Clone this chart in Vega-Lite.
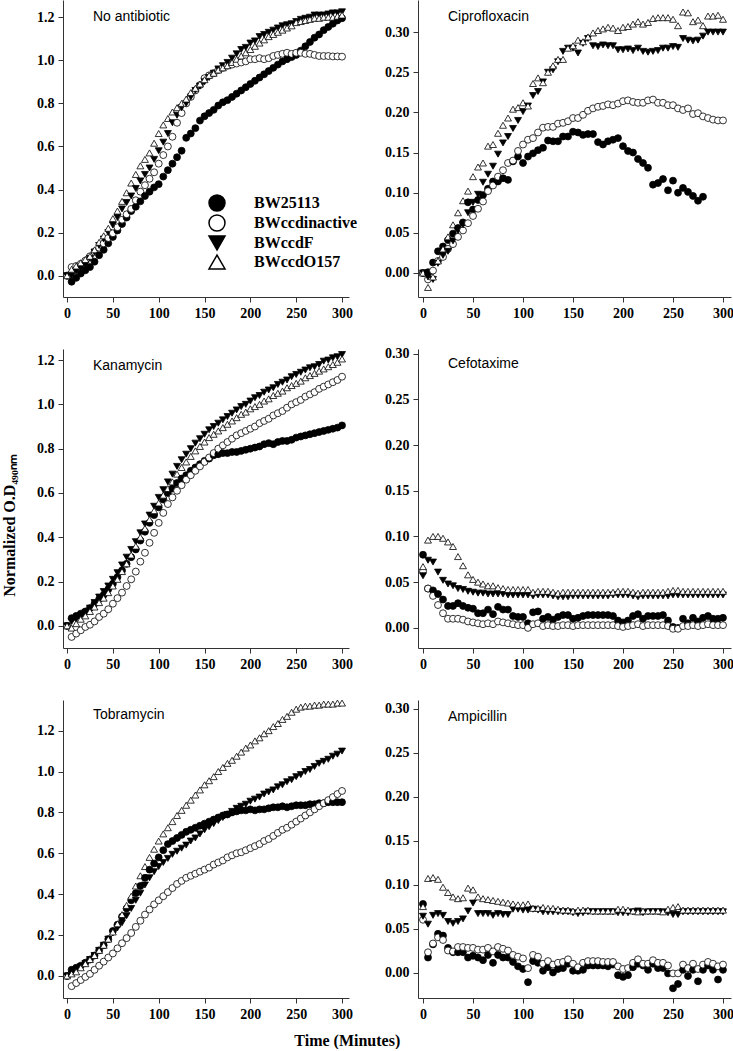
{
"$schema":"https://vega.github.io/schema/vega-lite/v6.json",
"background":"white",
"padding":{"left":1,"top":0,"right":0,"bottom":0},
"title":{"text":"Time (Minutes)","orient":"bottom","anchor":"middle","frame":"bounds","font":"Liberation Serif","fontSize":16,"fontWeight":"bold","color":"#000","offset":12,"dx":-20},
"columns":2,
"spacing":{"row":52,"column":69},
"bounds":"flush",
"config":{
"view":{"stroke":null},
"axis":{"grid":false,"domainColor":"#333","domainWidth":1,"tickColor":"#333","tickWidth":1,"tickSize":5,"labelFont":"Liberation Serif","labelFontSize":14,"labelFontWeight":"bold","labelColor":"#000","labelPadding":4,"labelFlush":false,"labelOverlap":false},
"title":{"font":"Liberation Sans","fontSize":14,"fontWeight":"normal","color":"#000"}
},
"concat":[
{"width":286,"height":297,"data":{"name":"p1"},"transform":[{"fold":["a","b","c","d"]}],
"title":{"text":"No antibiotic","frame":"group","anchor":"start","offset":-24,"dx":30},
"mark":{"type":"point","filled":true,"stroke":"#000","strokeWidth":0.8,"size":48,"opacity":1},
"encoding":{
"x":{"field":"t","type":"quantitative","scale":{"domain":[-4.4,307.6],"nice":false,"zero":false},"axis":{"values":[0,50,100,150,200,250,300],"title":null}},
"y":{"field":"value","type":"quantitative","scale":{"domain":[-0.099,1.28],"nice":false,"zero":false},"axis":{"values":[0,0.2,0.4,0.6,0.8,1,1.2],"format":".1f","title":null}},
"shape":{"field":"key","type":"nominal","scale":{"domain":["a","b","c","d"],"range":["circle","circle","triangle-down","triangle-up"]},"legend":{"title":null,"orient":"none","legendX":145,"legendY":194,"symbolSize":256,"labelFont":"Liberation Serif","labelFontSize":16,"labelFontWeight":"bold","labelColor":"#000","labelOffset":28,"rowPadding":-2,"padding":0,"labelExpr":"datum.label=='a'?'BW25113':datum.label=='b'?'BWccdinactive':datum.label=='c'?'BWccdF':'BWccdO157'","encode":{"symbols":{"update":{"stroke":{"value":"#000"},"strokeWidth":{"value":1}}}}}},
"fill":{"field":"key","type":"nominal","scale":{"domain":["a","b","c","d"],"range":["#000","#fff","#000","#fff"]},"legend":{"title":null,"orient":"none","legendX":145,"legendY":194,"symbolSize":256,"labelFont":"Liberation Serif","labelFontSize":16,"labelFontWeight":"bold","labelColor":"#000","labelOffset":28,"rowPadding":-2,"padding":0,"labelExpr":"datum.label=='a'?'BW25113':datum.label=='b'?'BWccdinactive':datum.label=='c'?'BWccdF':'BWccdO157'","encode":{"symbols":{"update":{"stroke":{"value":"#000"},"strokeWidth":{"value":1}}}}}}
}},
{"width":313,"height":297,"data":{"name":"p2"},"transform":[{"fold":["a","b","c","d"]}],
"title":{"text":"Ciprofloxacin","frame":"group","anchor":"start","offset":-24,"dx":30},
"mark":{"type":"point","filled":true,"stroke":"#000","strokeWidth":0.8,"size":48,"opacity":1},
"encoding":{
"x":{"field":"t","type":"quantitative","scale":{"domain":[-5,308],"nice":false,"zero":false},"axis":{"values":[0,50,100,150,200,250,300],"title":null}},
"y":{"field":"value","type":"quantitative","scale":{"domain":[-0.0299,0.34],"nice":false,"zero":false},"axis":{"values":[0,0.05,0.1,0.15,0.2,0.25,0.3],"format":".2f","title":null}},
"shape":{"field":"key","type":"nominal","scale":{"domain":["a","b","c","d"],"range":["circle","circle","triangle-down","triangle-up"]},"legend":{"title":null,"orient":"none","legendX":145,"legendY":194,"symbolSize":256,"labelFont":"Liberation Serif","labelFontSize":16,"labelFontWeight":"bold","labelColor":"#000","labelOffset":28,"rowPadding":-2,"padding":0,"labelExpr":"datum.label=='a'?'BW25113':datum.label=='b'?'BWccdinactive':datum.label=='c'?'BWccdF':'BWccdO157'","encode":{"symbols":{"update":{"stroke":{"value":"#000"},"strokeWidth":{"value":1}}}}}},
"fill":{"field":"key","type":"nominal","scale":{"domain":["a","b","c","d"],"range":["#000","#fff","#000","#fff"]},"legend":{"title":null,"orient":"none","legendX":145,"legendY":194,"symbolSize":256,"labelFont":"Liberation Serif","labelFontSize":16,"labelFontWeight":"bold","labelColor":"#000","labelOffset":28,"rowPadding":-2,"padding":0,"labelExpr":"datum.label=='a'?'BW25113':datum.label=='b'?'BWccdinactive':datum.label=='c'?'BWccdF':'BWccdO157'","encode":{"symbols":{"update":{"stroke":{"value":"#000"},"strokeWidth":{"value":1}}}}}}
}},
{"width":286,"height":299,"data":{"name":"p3"},"transform":[{"fold":["a","b","c","d"]}],
"title":{"text":"Kanamycin","frame":"group","anchor":"start","offset":-24,"dx":30},
"mark":{"type":"point","filled":true,"stroke":"#000","strokeWidth":0.8,"size":48,"opacity":1},
"encoding":{
"x":{"field":"t","type":"quantitative","scale":{"domain":[-4.4,307.6],"nice":false,"zero":false},"axis":{"values":[0,50,100,150,200,250,300],"title":null}},
"y":{"field":"value","type":"quantitative","scale":{"domain":[-0.1,1.25],"nice":false,"zero":false},"axis":{"values":[0,0.2,0.4,0.6,0.8,1,1.2],"format":".1f","title":"Normalized O.D₄₉₀ₙₘ","titleFont":"Liberation Serif","titleFontSize":16,"titleFontWeight":"bold","titleColor":"#000","titleX":-46,"titleY":176}},
"shape":{"field":"key","type":"nominal","scale":{"domain":["a","b","c","d"],"range":["circle","circle","triangle-down","triangle-up"]},"legend":{"title":null,"orient":"none","legendX":145,"legendY":194,"symbolSize":256,"labelFont":"Liberation Serif","labelFontSize":16,"labelFontWeight":"bold","labelColor":"#000","labelOffset":28,"rowPadding":-2,"padding":0,"labelExpr":"datum.label=='a'?'BW25113':datum.label=='b'?'BWccdinactive':datum.label=='c'?'BWccdF':'BWccdO157'","encode":{"symbols":{"update":{"stroke":{"value":"#000"},"strokeWidth":{"value":1}}}}}},
"fill":{"field":"key","type":"nominal","scale":{"domain":["a","b","c","d"],"range":["#000","#fff","#000","#fff"]},"legend":{"title":null,"orient":"none","legendX":145,"legendY":194,"symbolSize":256,"labelFont":"Liberation Serif","labelFontSize":16,"labelFontWeight":"bold","labelColor":"#000","labelOffset":28,"rowPadding":-2,"padding":0,"labelExpr":"datum.label=='a'?'BW25113':datum.label=='b'?'BWccdinactive':datum.label=='c'?'BWccdF':'BWccdO157'","encode":{"symbols":{"update":{"stroke":{"value":"#000"},"strokeWidth":{"value":1}}}}}}
}},
{"width":313,"height":299,"data":{"name":"p4"},"transform":[{"fold":["a","b","c","d"]}],
"title":{"text":"Cefotaxime","frame":"group","anchor":"start","offset":-24,"dx":30},
"mark":{"type":"point","filled":true,"stroke":"#000","strokeWidth":0.8,"size":48,"opacity":1},
"encoding":{
"x":{"field":"t","type":"quantitative","scale":{"domain":[-5,308],"nice":false,"zero":false},"axis":{"values":[0,50,100,150,200,250,300],"title":null}},
"y":{"field":"value","type":"quantitative","scale":{"domain":[-0.022,0.305],"nice":false,"zero":false},"axis":{"values":[0,0.05,0.1,0.15,0.2,0.25,0.3],"format":".2f","title":null}},
"shape":{"field":"key","type":"nominal","scale":{"domain":["a","b","c","d"],"range":["circle","circle","triangle-down","triangle-up"]},"legend":{"title":null,"orient":"none","legendX":145,"legendY":194,"symbolSize":256,"labelFont":"Liberation Serif","labelFontSize":16,"labelFontWeight":"bold","labelColor":"#000","labelOffset":28,"rowPadding":-2,"padding":0,"labelExpr":"datum.label=='a'?'BW25113':datum.label=='b'?'BWccdinactive':datum.label=='c'?'BWccdF':'BWccdO157'","encode":{"symbols":{"update":{"stroke":{"value":"#000"},"strokeWidth":{"value":1}}}}}},
"fill":{"field":"key","type":"nominal","scale":{"domain":["a","b","c","d"],"range":["#000","#fff","#000","#fff"]},"legend":{"title":null,"orient":"none","legendX":145,"legendY":194,"symbolSize":256,"labelFont":"Liberation Serif","labelFontSize":16,"labelFontWeight":"bold","labelColor":"#000","labelOffset":28,"rowPadding":-2,"padding":0,"labelExpr":"datum.label=='a'?'BW25113':datum.label=='b'?'BWccdinactive':datum.label=='c'?'BWccdF':'BWccdO157'","encode":{"symbols":{"update":{"stroke":{"value":"#000"},"strokeWidth":{"value":1}}}}}}
}},
{"width":286,"height":298,"data":{"name":"p5"},"transform":[{"fold":["a","b","c","d"]}],
"title":{"text":"Tobramycin","frame":"group","anchor":"start","offset":-24,"dx":30},
"mark":{"type":"point","filled":true,"stroke":"#000","strokeWidth":0.8,"size":48,"opacity":1},
"encoding":{
"x":{"field":"t","type":"quantitative","scale":{"domain":[-4.4,307.6],"nice":false,"zero":false},"axis":{"values":[0,50,100,150,200,250,300],"title":null}},
"y":{"field":"value","type":"quantitative","scale":{"domain":[-0.108,1.35],"nice":false,"zero":false},"axis":{"values":[0,0.2,0.4,0.6,0.8,1,1.2],"format":".1f","title":null}},
"shape":{"field":"key","type":"nominal","scale":{"domain":["a","b","c","d"],"range":["circle","circle","triangle-down","triangle-up"]},"legend":{"title":null,"orient":"none","legendX":145,"legendY":194,"symbolSize":256,"labelFont":"Liberation Serif","labelFontSize":16,"labelFontWeight":"bold","labelColor":"#000","labelOffset":28,"rowPadding":-2,"padding":0,"labelExpr":"datum.label=='a'?'BW25113':datum.label=='b'?'BWccdinactive':datum.label=='c'?'BWccdF':'BWccdO157'","encode":{"symbols":{"update":{"stroke":{"value":"#000"},"strokeWidth":{"value":1}}}}}},
"fill":{"field":"key","type":"nominal","scale":{"domain":["a","b","c","d"],"range":["#000","#fff","#000","#fff"]},"legend":{"title":null,"orient":"none","legendX":145,"legendY":194,"symbolSize":256,"labelFont":"Liberation Serif","labelFontSize":16,"labelFontWeight":"bold","labelColor":"#000","labelOffset":28,"rowPadding":-2,"padding":0,"labelExpr":"datum.label=='a'?'BW25113':datum.label=='b'?'BWccdinactive':datum.label=='c'?'BWccdF':'BWccdO157'","encode":{"symbols":{"update":{"stroke":{"value":"#000"},"strokeWidth":{"value":1}}}}}}
}},
{"width":313,"height":298,"data":{"name":"p6"},"transform":[{"fold":["a","b","c","d"]}],
"title":{"text":"Ampicillin","frame":"group","anchor":"start","offset":-24,"dx":30},
"mark":{"type":"point","filled":true,"stroke":"#000","strokeWidth":0.8,"size":48,"opacity":1},
"encoding":{
"x":{"field":"t","type":"quantitative","scale":{"domain":[-5,308],"nice":false,"zero":false},"axis":{"values":[0,50,100,150,200,250,300],"title":null}},
"y":{"field":"value","type":"quantitative","scale":{"domain":[-0.029,0.31],"nice":false,"zero":false},"axis":{"values":[0,0.05,0.1,0.15,0.2,0.25,0.3],"format":".2f","title":null}},
"shape":{"field":"key","type":"nominal","scale":{"domain":["a","b","c","d"],"range":["circle","circle","triangle-down","triangle-up"]},"legend":{"title":null,"orient":"none","legendX":145,"legendY":194,"symbolSize":256,"labelFont":"Liberation Serif","labelFontSize":16,"labelFontWeight":"bold","labelColor":"#000","labelOffset":28,"rowPadding":-2,"padding":0,"labelExpr":"datum.label=='a'?'BW25113':datum.label=='b'?'BWccdinactive':datum.label=='c'?'BWccdF':'BWccdO157'","encode":{"symbols":{"update":{"stroke":{"value":"#000"},"strokeWidth":{"value":1}}}}}},
"fill":{"field":"key","type":"nominal","scale":{"domain":["a","b","c","d"],"range":["#000","#fff","#000","#fff"]},"legend":{"title":null,"orient":"none","legendX":145,"legendY":194,"symbolSize":256,"labelFont":"Liberation Serif","labelFontSize":16,"labelFontWeight":"bold","labelColor":"#000","labelOffset":28,"rowPadding":-2,"padding":0,"labelExpr":"datum.label=='a'?'BW25113':datum.label=='b'?'BWccdinactive':datum.label=='c'?'BWccdF':'BWccdO157'","encode":{"symbols":{"update":{"stroke":{"value":"#000"},"strokeWidth":{"value":1}}}}}}
}}
],
"datasets":{
"p1":[
{"t":0,"a":0,"b":0,"c":0,"d":0},{"t":5,"a":-0.028,"b":0.04,"c":0,"d":0.03},{"t":10,"a":-0.01,"b":0.045,"c":0.02,"d":0.045},{"t":15,"a":0.01,"b":0.055,"c":0.035,"d":0.06},{"t":20,"a":0.025,"b":0.07,"c":0.05,"d":0.075},{"t":25,"a":0.04,"b":0.09,"c":0.08,"d":0.09},{"t":30,"a":0.065,"b":0.11,"c":0.11,"d":0.12},{"t":35,"a":0.095,"b":0.13,"c":0.14,"d":0.155},{"t":40,"a":0.12,"b":0.15,"c":0.17,"d":0.185},{"t":45,"a":0.15,"b":0.175,"c":0.2,"d":0.22},{"t":50,"a":0.18,"b":0.197,"c":0.235,"d":0.265},{"t":55,"a":0.21,"b":0.225,"c":0.27,"d":0.3},{"t":60,"a":0.24,"b":0.26,"c":0.31,"d":0.345},{"t":65,"a":0.27,"b":0.285,"c":0.34,"d":0.385},{"t":70,"a":0.3,"b":0.31,"c":0.37,"d":0.43},{"t":75,"a":0.32,"b":0.35,"c":0.405,"d":0.47},{"t":80,"a":0.345,"b":0.39,"c":0.44,"d":0.51},{"t":85,"a":0.37,"b":0.42,"c":0.47,"d":0.54},{"t":90,"a":0.39,"b":0.45,"c":0.5,"d":0.57},{"t":95,"a":0.41,"b":0.48,"c":0.54,"d":0.615},{"t":100,"a":0.425,"b":0.52,"c":0.58,"d":0.66},{"t":105,"a":0.46,"b":0.56,"c":0.62,"d":0.7},{"t":110,"a":0.49,"b":0.6,"c":0.66,"d":0.73},{"t":115,"a":0.52,"b":0.645,"c":0.71,"d":0.76},{"t":120,"a":0.55,"b":0.71,"c":0.745,"d":0.78},{"t":125,"a":0.58,"b":0.755,"c":0.78,"d":0.8},{"t":130,"a":0.64,"b":0.8,"c":0.8,"d":0.82},{"t":135,"a":0.66,"b":0.83,"c":0.83,"d":0.85},{"t":140,"a":0.685,"b":0.86,"c":0.86,"d":0.87},{"t":145,"a":0.72,"b":0.885,"c":0.88,"d":0.89},{"t":150,"a":0.74,"b":0.917,"c":0.9,"d":0.91},{"t":155,"a":0.755,"b":0.93,"c":0.92,"d":0.93},{"t":160,"a":0.77,"b":0.94,"c":0.94,"d":0.94},{"t":165,"a":0.79,"b":0.955,"c":0.96,"d":0.955},{"t":170,"a":0.805,"b":0.965,"c":0.975,"d":0.965},{"t":175,"a":0.815,"b":0.975,"c":0.99,"d":0.975},{"t":180,"a":0.83,"b":0.98,"c":1.01,"d":0.99},{"t":185,"a":0.845,"b":0.985,"c":1.03,"d":1.005},{"t":190,"a":0.86,"b":0.99,"c":1.05,"d":1.02},{"t":195,"a":0.875,"b":0.995,"c":1.06,"d":1.035},{"t":200,"a":0.89,"b":1.005,"c":1.08,"d":1.05},{"t":205,"a":0.905,"b":1.005,"c":1.09,"d":1.065},{"t":210,"a":0.92,"b":1.01,"c":1.11,"d":1.08},{"t":215,"a":0.935,"b":1.005,"c":1.12,"d":1.095},{"t":220,"a":0.95,"b":1.01,"c":1.13,"d":1.11},{"t":225,"a":0.965,"b":1.02,"c":1.14,"d":1.12},{"t":230,"a":0.98,"b":1.025,"c":1.15,"d":1.13},{"t":235,"a":0.995,"b":1.03,"c":1.16,"d":1.14},{"t":240,"a":1.005,"b":1.035,"c":1.165,"d":1.15},{"t":245,"a":1.015,"b":1.03,"c":1.17,"d":1.16},{"t":250,"a":1.025,"b":1.035,"c":1.18,"d":1.175},{"t":255,"a":1.045,"b":1.035,"c":1.19,"d":1.18},{"t":260,"a":1.065,"b":1.03,"c":1.195,"d":1.185},{"t":265,"a":1.085,"b":1.03,"c":1.2,"d":1.19},{"t":270,"a":1.105,"b":1.025,"c":1.21,"d":1.195},{"t":275,"a":1.12,"b":1.02,"c":1.21,"d":1.195},{"t":280,"a":1.14,"b":1.02,"c":1.21,"d":1.2},{"t":285,"a":1.155,"b":1.02,"c":1.215,"d":1.2},{"t":290,"a":1.17,"b":1.018,"c":1.22,"d":1.2},{"t":295,"a":1.185,"b":1.018,"c":1.22,"d":1.205},{"t":300,"a":1.195,"b":1.017,"c":1.225,"d":1.21}
],
"p2":[
{"t":0,"a":0,"b":0,"c":0,"d":0},{"t":5,"a":0.001,"b":-0.008,"c":-0.005,"d":-0.018},{"t":10,"a":0.013,"b":0.003,"c":-0.008,"d":-0.005},{"t":15,"a":0.027,"b":0.015,"c":0.012,"d":0.015},{"t":20,"a":0.033,"b":0.02,"c":0.022,"d":0.03},{"t":25,"a":0.041,"b":0.03,"c":0.027,"d":0.045},{"t":30,"a":0.049,"b":0.036,"c":0.04,"d":0.06},{"t":35,"a":0.056,"b":0.045,"c":0.053,"d":0.075},{"t":40,"a":0.063,"b":0.053,"c":0.06,"d":0.09},{"t":45,"a":0.088,"b":0.062,"c":0.075,"d":0.102},{"t":50,"a":0.079,"b":0.071,"c":0.088,"d":0.12},{"t":55,"a":0.091,"b":0.08,"c":0.098,"d":0.132},{"t":60,"a":0.097,"b":0.089,"c":0.113,"d":0.137},{"t":65,"a":0.105,"b":0.102,"c":0.123,"d":0.158},{"t":70,"a":0.114,"b":0.109,"c":0.133,"d":0.16},{"t":75,"a":0.114,"b":0.12,"c":0.148,"d":0.174},{"t":80,"a":0.118,"b":0.128,"c":0.162,"d":0.184},{"t":85,"a":0.116,"b":0.137,"c":0.17,"d":0.193},{"t":90,"a":0.139,"b":0.14,"c":0.18,"d":0.204},{"t":95,"a":0.145,"b":0.152,"c":0.19,"d":0.206},{"t":100,"a":0.137,"b":0.16,"c":0.201,"d":0.212},{"t":105,"a":0.145,"b":0.166,"c":0.208,"d":0.208},{"t":110,"a":0.149,"b":0.168,"c":0.221,"d":0.236},{"t":115,"a":0.153,"b":0.175,"c":0.226,"d":0.243},{"t":120,"a":0.156,"b":0.181,"c":0.238,"d":0.237},{"t":125,"a":0.165,"b":0.182,"c":0.25,"d":0.25},{"t":130,"a":0.164,"b":0.182,"c":0.253,"d":0.258},{"t":135,"a":0.164,"b":0.186,"c":0.263,"d":0.266},{"t":140,"a":0.17,"b":0.187,"c":0.276,"d":0.266},{"t":145,"a":0.17,"b":0.189,"c":0.28,"d":0.28},{"t":150,"a":0.176,"b":0.193,"c":0.28,"d":0.283},{"t":155,"a":0.175,"b":0.193,"c":0.274,"d":0.29},{"t":160,"a":0.172,"b":0.197,"c":0.286,"d":0.288},{"t":165,"a":0.173,"b":0.202,"c":0.292,"d":0.294},{"t":170,"a":0.173,"b":0.205,"c":0.283,"d":0.299},{"t":175,"a":0.163,"b":0.207,"c":0.282,"d":0.302},{"t":180,"a":0.16,"b":0.208,"c":0.284,"d":0.304},{"t":185,"a":0.164,"b":0.21,"c":0.283,"d":0.306},{"t":190,"a":0.166,"b":0.209,"c":0.283,"d":0.305},{"t":195,"a":0.168,"b":0.211,"c":0.278,"d":0.302},{"t":200,"a":0.158,"b":0.214,"c":0.278,"d":0.306},{"t":205,"a":0.152,"b":0.215,"c":0.279,"d":0.307},{"t":210,"a":0.15,"b":0.213,"c":0.277,"d":0.31},{"t":215,"a":0.142,"b":0.212,"c":0.28,"d":0.313},{"t":220,"a":0.137,"b":0.212,"c":0.276,"d":0.31},{"t":225,"a":0.131,"b":0.215,"c":0.275,"d":0.312},{"t":230,"a":0.11,"b":0.216,"c":0.276,"d":0.317},{"t":235,"a":0.112,"b":0.212,"c":0.277,"d":0.318},{"t":240,"a":0.117,"b":0.212,"c":0.28,"d":0.318},{"t":245,"a":0.103,"b":0.209,"c":0.28,"d":0.318},{"t":250,"a":0.115,"b":0.209,"c":0.282,"d":0.316},{"t":255,"a":0.1,"b":0.205,"c":0.281,"d":0.308},{"t":260,"a":0.106,"b":0.203,"c":0.292,"d":0.325},{"t":265,"a":0.101,"b":0.205,"c":0.29,"d":0.324},{"t":270,"a":0.096,"b":0.198,"c":0.289,"d":0.313},{"t":275,"a":0.09,"b":0.199,"c":0.29,"d":0.315},{"t":280,"a":0.095,"b":0.195,"c":0.295,"d":0.308},{"t":285,"a":null,"b":0.193,"c":0.3,"d":0.32},{"t":290,"a":null,"b":0.191,"c":0.3,"d":0.32},{"t":295,"a":null,"b":0.19,"c":0.3,"d":0.321},{"t":300,"a":null,"b":0.19,"c":0.3,"d":0.316}
],
"p3":[
{"t":0,"a":0,"b":0,"c":0,"d":0},{"t":5,"a":0.035,"b":-0.05,"c":0.02,"d":-0.01},{"t":10,"a":0.045,"b":-0.035,"c":0.03,"d":0.01},{"t":15,"a":0.055,"b":-0.02,"c":0.045,"d":0.03},{"t":20,"a":0.065,"b":-0.005,"c":0.06,"d":0.045},{"t":25,"a":0.08,"b":0.005,"c":0.08,"d":0.065},{"t":30,"a":0.1,"b":0.02,"c":0.105,"d":0.085},{"t":35,"a":0.12,"b":0.04,"c":0.13,"d":0.105},{"t":40,"a":0.14,"b":0.055,"c":0.155,"d":0.125},{"t":45,"a":0.165,"b":0.075,"c":0.18,"d":0.15},{"t":50,"a":0.19,"b":0.1,"c":0.21,"d":0.18},{"t":55,"a":0.22,"b":0.125,"c":0.24,"d":0.21},{"t":60,"a":0.25,"b":0.15,"c":0.275,"d":0.245},{"t":65,"a":0.28,"b":0.18,"c":0.31,"d":0.28},{"t":70,"a":0.31,"b":0.21,"c":0.345,"d":0.32},{"t":75,"a":0.345,"b":0.245,"c":0.38,"d":0.36},{"t":80,"a":0.385,"b":0.29,"c":0.42,"d":0.4},{"t":85,"a":0.425,"b":0.33,"c":0.46,"d":0.44},{"t":90,"a":0.465,"b":0.375,"c":0.5,"d":0.48},{"t":95,"a":0.5,"b":0.42,"c":0.54,"d":0.52},{"t":100,"a":0.535,"b":0.465,"c":0.58,"d":0.555},{"t":105,"a":0.57,"b":0.51,"c":0.615,"d":0.59},{"t":110,"a":0.6,"b":0.55,"c":0.65,"d":0.62},{"t":115,"a":0.62,"b":0.58,"c":0.685,"d":0.65},{"t":120,"a":0.645,"b":0.61,"c":0.72,"d":0.685},{"t":125,"a":0.665,"b":0.635,"c":0.75,"d":0.715},{"t":130,"a":0.68,"b":0.66,"c":0.775,"d":0.74},{"t":135,"a":0.7,"b":0.68,"c":0.8,"d":0.765},{"t":140,"a":0.715,"b":0.7,"c":0.825,"d":0.79},{"t":145,"a":0.73,"b":0.72,"c":0.845,"d":0.81},{"t":150,"a":0.745,"b":0.74,"c":0.865,"d":0.83},{"t":155,"a":0.755,"b":0.76,"c":0.885,"d":0.85},{"t":160,"a":0.77,"b":0.78,"c":0.9,"d":0.865},{"t":165,"a":0.775,"b":0.8,"c":0.915,"d":0.88},{"t":170,"a":0.78,"b":0.815,"c":0.93,"d":0.895},{"t":175,"a":0.78,"b":0.83,"c":0.945,"d":0.91},{"t":180,"a":0.785,"b":0.845,"c":0.96,"d":0.925},{"t":185,"a":0.785,"b":0.86,"c":0.975,"d":0.94},{"t":190,"a":0.79,"b":0.87,"c":0.99,"d":0.955},{"t":195,"a":0.795,"b":0.88,"c":1.0,"d":0.965},{"t":200,"a":0.8,"b":0.89,"c":1.015,"d":0.98},{"t":205,"a":0.805,"b":0.9,"c":1.03,"d":0.99},{"t":210,"a":0.81,"b":0.915,"c":1.04,"d":1.0},{"t":215,"a":0.82,"b":0.925,"c":1.055,"d":1.015},{"t":220,"a":0.825,"b":0.935,"c":1.065,"d":1.025},{"t":225,"a":0.82,"b":0.95,"c":1.075,"d":1.04},{"t":230,"a":0.83,"b":0.96,"c":1.09,"d":1.05},{"t":235,"a":0.835,"b":0.97,"c":1.1,"d":1.06},{"t":240,"a":0.835,"b":0.985,"c":1.11,"d":1.075},{"t":245,"a":0.84,"b":1.0,"c":1.125,"d":1.085},{"t":250,"a":0.85,"b":1.01,"c":1.135,"d":1.095},{"t":255,"a":0.855,"b":1.02,"c":1.145,"d":1.105},{"t":260,"a":0.86,"b":1.035,"c":1.155,"d":1.12},{"t":265,"a":0.865,"b":1.045,"c":1.165,"d":1.13},{"t":270,"a":0.87,"b":1.055,"c":1.17,"d":1.14},{"t":275,"a":0.875,"b":1.07,"c":1.18,"d":1.15},{"t":280,"a":0.88,"b":1.08,"c":1.195,"d":1.16},{"t":285,"a":0.885,"b":1.09,"c":1.2,"d":1.17},{"t":290,"a":0.89,"b":1.1,"c":1.21,"d":1.18},{"t":295,"a":0.895,"b":1.11,"c":1.215,"d":1.19},{"t":300,"a":0.905,"b":1.125,"c":1.225,"d":1.205}
],
"p4":[
{"t":0,"a":0.08,"b":0.062,"c":0.057,"d":0.067},{"t":5,"a":0.043,"b":0.043,"c":0.074,"d":0.096},{"t":10,"a":0.041,"b":0.035,"c":0.072,"d":0.1},{"t":15,"a":0.037,"b":0.025,"c":0.061,"d":0.1},{"t":20,"a":0.031,"b":0.016,"c":0.052,"d":0.098},{"t":25,"a":0.024,"b":0.01,"c":0.048,"d":0.094},{"t":30,"a":0.024,"b":0.01,"c":0.046,"d":0.089},{"t":35,"a":0.027,"b":0.01,"c":0.043,"d":0.078},{"t":40,"a":0.024,"b":0.009,"c":0.042,"d":0.068},{"t":45,"a":0.022,"b":0.007,"c":0.04,"d":0.058},{"t":50,"a":0.021,"b":0.006,"c":0.039,"d":0.053},{"t":55,"a":0.016,"b":0.005,"c":0.038,"d":0.05},{"t":60,"a":0.016,"b":0.004,"c":0.038,"d":0.048},{"t":65,"a":0.02,"b":0.005,"c":0.037,"d":0.046},{"t":70,"a":0.015,"b":0.004,"c":0.037,"d":0.046},{"t":75,"a":0.023,"b":0.007,"c":0.037,"d":0.044},{"t":80,"a":0.02,"b":0.006,"c":0.037,"d":0.043},{"t":85,"a":0.02,"b":0.005,"c":0.036,"d":0.042},{"t":90,"a":0.013,"b":0.004,"c":0.036,"d":0.042},{"t":95,"a":0.012,"b":0.003,"c":0.036,"d":0.042},{"t":100,"a":0.012,"b":0.003,"c":0.036,"d":0.042},{"t":105,"a":0.005,"b":0,"c":0.036,"d":0.042},{"t":110,"a":0.017,"b":0.004,"c":0.035,"d":0.039},{"t":115,"a":0.018,"b":0.005,"c":0.036,"d":0.04},{"t":120,"a":0.01,"b":0.002,"c":0.036,"d":0.04},{"t":125,"a":0.012,"b":0.003,"c":0.036,"d":0.04},{"t":130,"a":0.009,"b":0.002,"c":0.035,"d":0.039},{"t":135,"a":0.012,"b":0.002,"c":0.034,"d":0.038},{"t":140,"a":0.014,"b":0.003,"c":0.034,"d":0.039},{"t":145,"a":0.014,"b":0.003,"c":0.034,"d":0.039},{"t":150,"a":0.01,"b":0.002,"c":0.035,"d":0.039},{"t":155,"a":0.011,"b":0.003,"c":0.035,"d":0.039},{"t":160,"a":0.013,"b":0.003,"c":0.035,"d":0.039},{"t":165,"a":0.014,"b":0.003,"c":0.035,"d":0.039},{"t":170,"a":0.014,"b":0.003,"c":0.035,"d":0.039},{"t":175,"a":0.014,"b":0.003,"c":0.035,"d":0.039},{"t":180,"a":0.014,"b":0.003,"c":0.035,"d":0.039},{"t":185,"a":0.014,"b":0.003,"c":0.035,"d":0.039},{"t":190,"a":0.013,"b":0.003,"c":0.036,"d":0.039},{"t":195,"a":0.008,"b":0.002,"c":0.036,"d":0.04},{"t":200,"a":0.006,"b":0.001,"c":0.036,"d":0.04},{"t":205,"a":0.008,"b":0.002,"c":0.036,"d":0.04},{"t":210,"a":0.013,"b":0.003,"c":0.035,"d":0.039},{"t":215,"a":0.015,"b":0.004,"c":0.034,"d":0.038},{"t":220,"a":0.01,"b":0.002,"c":0.035,"d":0.039},{"t":225,"a":0.013,"b":0.003,"c":0.035,"d":0.039},{"t":230,"a":0.013,"b":0.003,"c":0.035,"d":0.039},{"t":235,"a":0.013,"b":0.003,"c":0.035,"d":0.039},{"t":240,"a":0.014,"b":0.003,"c":0.035,"d":0.039},{"t":245,"a":0.008,"b":0.002,"c":0.035,"d":0.04},{"t":250,"a":0.001,"b":-0.001,"c":0.036,"d":0.041},{"t":255,"a":0,"b":-0.001,"c":0.036,"d":0.041},{"t":260,"a":0.01,"b":0.002,"c":0.036,"d":0.04},{"t":265,"a":0.005,"b":0.002,"c":0.036,"d":0.04},{"t":270,"a":0.011,"b":0.003,"c":0.036,"d":0.04},{"t":275,"a":0.007,"b":0.002,"c":0.036,"d":0.04},{"t":280,"a":0.011,"b":0.003,"c":0.036,"d":0.04},{"t":285,"a":0.013,"b":0.004,"c":0.036,"d":0.04},{"t":290,"a":0.01,"b":0.003,"c":0.036,"d":0.04},{"t":295,"a":0.01,"b":0.003,"c":0.036,"d":0.04},{"t":300,"a":0.011,"b":0.003,"c":0.036,"d":0.04}
],
"p5":[
{"t":0,"a":0,"b":0,"c":0,"d":0},{"t":5,"a":0.03,"b":-0.05,"c":0.01,"d":0.01},{"t":10,"a":0.04,"b":-0.035,"c":0.03,"d":0.02},{"t":15,"a":0.05,"b":-0.02,"c":0.045,"d":0.04},{"t":20,"a":0.065,"b":-0.005,"c":0.06,"d":0.06},{"t":25,"a":0.08,"b":0.01,"c":0.08,"d":0.08},{"t":30,"a":0.1,"b":0.03,"c":0.1,"d":0.1},{"t":35,"a":0.125,"b":0.05,"c":0.125,"d":0.125},{"t":40,"a":0.15,"b":0.07,"c":0.15,"d":0.15},{"t":45,"a":0.18,"b":0.09,"c":0.18,"d":0.18},{"t":50,"a":0.22,"b":0.11,"c":0.21,"d":0.215},{"t":55,"a":0.25,"b":0.135,"c":0.235,"d":0.255},{"t":60,"a":0.29,"b":0.16,"c":0.26,"d":0.3},{"t":65,"a":0.33,"b":0.185,"c":0.295,"d":0.345},{"t":70,"a":0.37,"b":0.21,"c":0.33,"d":0.39},{"t":75,"a":0.405,"b":0.24,"c":0.37,"d":0.44},{"t":80,"a":0.44,"b":0.27,"c":0.405,"d":0.49},{"t":85,"a":0.48,"b":0.3,"c":0.445,"d":0.535},{"t":90,"a":0.52,"b":0.325,"c":0.48,"d":0.58},{"t":95,"a":0.55,"b":0.35,"c":0.51,"d":0.62},{"t":100,"a":0.58,"b":0.37,"c":0.535,"d":0.66},{"t":105,"a":0.615,"b":0.39,"c":0.555,"d":0.695},{"t":110,"a":0.645,"b":0.41,"c":0.575,"d":0.725},{"t":115,"a":0.66,"b":0.43,"c":0.595,"d":0.755},{"t":120,"a":0.675,"b":0.45,"c":0.61,"d":0.785},{"t":125,"a":0.69,"b":0.465,"c":0.625,"d":0.81},{"t":130,"a":0.705,"b":0.48,"c":0.64,"d":0.835},{"t":135,"a":0.715,"b":0.49,"c":0.66,"d":0.86},{"t":140,"a":0.725,"b":0.5,"c":0.675,"d":0.885},{"t":145,"a":0.735,"b":0.51,"c":0.695,"d":0.91},{"t":150,"a":0.745,"b":0.52,"c":0.715,"d":0.935},{"t":155,"a":0.755,"b":0.53,"c":0.73,"d":0.955},{"t":160,"a":0.765,"b":0.545,"c":0.745,"d":0.975},{"t":165,"a":0.775,"b":0.555,"c":0.76,"d":1.0},{"t":170,"a":0.785,"b":0.565,"c":0.775,"d":1.02},{"t":175,"a":0.79,"b":0.58,"c":0.79,"d":1.04},{"t":180,"a":0.8,"b":0.59,"c":0.805,"d":1.055},{"t":185,"a":0.805,"b":0.6,"c":0.82,"d":1.075},{"t":190,"a":0.81,"b":0.605,"c":0.83,"d":1.095},{"t":195,"a":0.81,"b":0.615,"c":0.84,"d":1.115},{"t":200,"a":0.815,"b":0.625,"c":0.855,"d":1.13},{"t":205,"a":0.81,"b":0.635,"c":0.865,"d":1.15},{"t":210,"a":0.815,"b":0.645,"c":0.875,"d":1.165},{"t":215,"a":0.815,"b":0.66,"c":0.89,"d":1.185},{"t":220,"a":0.82,"b":0.67,"c":0.9,"d":1.2},{"t":225,"a":0.825,"b":0.685,"c":0.91,"d":1.22},{"t":230,"a":0.825,"b":0.7,"c":0.925,"d":1.235},{"t":235,"a":0.83,"b":0.715,"c":0.935,"d":1.255},{"t":240,"a":0.825,"b":0.725,"c":0.95,"d":1.27},{"t":245,"a":0.83,"b":0.74,"c":0.96,"d":1.29},{"t":250,"a":0.835,"b":0.755,"c":0.975,"d":1.305},{"t":255,"a":0.835,"b":0.77,"c":0.985,"d":1.315},{"t":260,"a":0.835,"b":0.785,"c":1.0,"d":1.32},{"t":265,"a":0.84,"b":0.8,"c":1.01,"d":1.32},{"t":270,"a":0.84,"b":0.815,"c":1.025,"d":1.325},{"t":275,"a":0.845,"b":0.83,"c":1.04,"d":1.325},{"t":280,"a":0.845,"b":0.845,"c":1.05,"d":1.33},{"t":285,"a":0.85,"b":0.86,"c":1.06,"d":1.33},{"t":290,"a":0.85,"b":0.875,"c":1.075,"d":1.33},{"t":295,"a":0.85,"b":0.89,"c":1.085,"d":1.335},{"t":300,"a":0.85,"b":0.905,"c":1.1,"d":1.335}
],
"p6":[
{"t":0,"a":0.078,"b":0.06,"c":0.064,"d":0.075},{"t":5,"a":0.017,"b":0.023,"c":0.055,"d":0.107},{"t":10,"a":0.032,"b":0.033,"c":0.065,"d":0.108},{"t":15,"a":0.044,"b":0.04,"c":0.067,"d":0.106},{"t":20,"a":0.042,"b":0.037,"c":0.065,"d":0.097},{"t":25,"a":0.028,"b":0.025,"c":0.058,"d":0.091},{"t":30,"a":0.023,"b":0.024,"c":0.056,"d":0.086},{"t":35,"a":0.023,"b":0.029,"c":0.058,"d":0.084},{"t":40,"a":0.023,"b":0.029,"c":0.061,"d":0.085},{"t":45,"a":0.017,"b":0.028,"c":0.07,"d":0.096},{"t":50,"a":0.019,"b":0.028,"c":0.079,"d":0.094},{"t":55,"a":0.017,"b":0.026,"c":0.067,"d":0.086},{"t":60,"a":0.014,"b":0.026,"c":0.067,"d":0.084},{"t":65,"a":0.02,"b":0.028,"c":0.067,"d":0.083},{"t":70,"a":0.011,"b":0.024,"c":0.065,"d":0.082},{"t":75,"a":0.02,"b":0.029,"c":0.067,"d":0.081},{"t":80,"a":0.017,"b":0.027,"c":0.066,"d":0.08},{"t":85,"a":0.017,"b":0.025,"c":0.066,"d":0.079},{"t":90,"a":0.012,"b":0.02,"c":0.072,"d":0.078},{"t":95,"a":0.007,"b":0.018,"c":0.072,"d":0.077},{"t":100,"a":0.004,"b":0.016,"c":0.071,"d":0.077},{"t":105,"a":-0.011,"b":0.005,"c":0.071,"d":0.078},{"t":110,"a":0.013,"b":0.02,"c":0.072,"d":0.073},{"t":115,"a":0.011,"b":0.018,"c":0.071,"d":0.073},{"t":120,"a":0.002,"b":0.01,"c":0.069,"d":0.074},{"t":125,"a":0.006,"b":0.013,"c":0.069,"d":0.073},{"t":130,"a":0,"b":0.009,"c":0.069,"d":0.073},{"t":135,"a":0.004,"b":0.011,"c":0.069,"d":0.072},{"t":140,"a":0.005,"b":0.012,"c":0.069,"d":0.071},{"t":145,"a":0.01,"b":0.015,"c":0.069,"d":0.071},{"t":150,"a":0.002,"b":0.01,"c":0.068,"d":0.07},{"t":155,"a":0.002,"b":0.006,"c":0.067,"d":0.071},{"t":160,"a":0.003,"b":0.011,"c":0.068,"d":0.071},{"t":165,"a":0.008,"b":0.013,"c":0.069,"d":0.071},{"t":170,"a":0.008,"b":0.013,"c":0.069,"d":0.07},{"t":175,"a":0.008,"b":0.013,"c":0.069,"d":0.07},{"t":180,"a":0.008,"b":0.012,"c":0.069,"d":0.07},{"t":185,"a":0.007,"b":0.012,"c":0.069,"d":0.07},{"t":190,"a":0.009,"b":0.012,"c":0.069,"d":0.07},{"t":195,"a":-0.003,"b":0.007,"c":0.068,"d":0.072},{"t":200,"a":-0.005,"b":0.004,"c":0.068,"d":0.072},{"t":205,"a":-0.003,"b":0.005,"c":0.068,"d":0.071},{"t":210,"a":0.006,"b":0.011,"c":0.069,"d":0.07},{"t":215,"a":0.01,"b":0.015,"c":0.07,"d":0.069},{"t":220,"a":0.008,"b":0.01,"c":0.068,"d":0.07},{"t":225,"a":0.003,"b":0.01,"c":0.069,"d":0.07},{"t":230,"a":0.01,"b":0.014,"c":0.069,"d":0.07},{"t":235,"a":0.005,"b":0.011,"c":0.069,"d":0.07},{"t":240,"a":0.005,"b":0.011,"c":0.069,"d":0.069},{"t":245,"a":-0.001,"b":0.008,"c":0.068,"d":0.072},{"t":250,"a":-0.018,"b":-0.001,"c":0.066,"d":0.074},{"t":255,"a":-0.013,"b":-0.001,"c":0.066,"d":0.075},{"t":260,"a":0.003,"b":0.009,"c":0.069,"d":0.071},{"t":265,"a":-0.004,"b":0.005,"c":0.069,"d":0.071},{"t":270,"a":0.003,"b":0.01,"c":0.069,"d":0.071},{"t":275,"a":-0.01,"b":0.004,"c":0.069,"d":0.071},{"t":280,"a":0.003,"b":0.009,"c":0.069,"d":0.071},{"t":285,"a":0.008,"b":0.012,"c":0.069,"d":0.071},{"t":290,"a":0.003,"b":0.01,"c":0.069,"d":0.071},{"t":295,"a":-0.008,"b":0.007,"c":0.069,"d":0.071},{"t":300,"a":0.003,"b":0.009,"c":0.069,"d":0.071}
]
}
}
